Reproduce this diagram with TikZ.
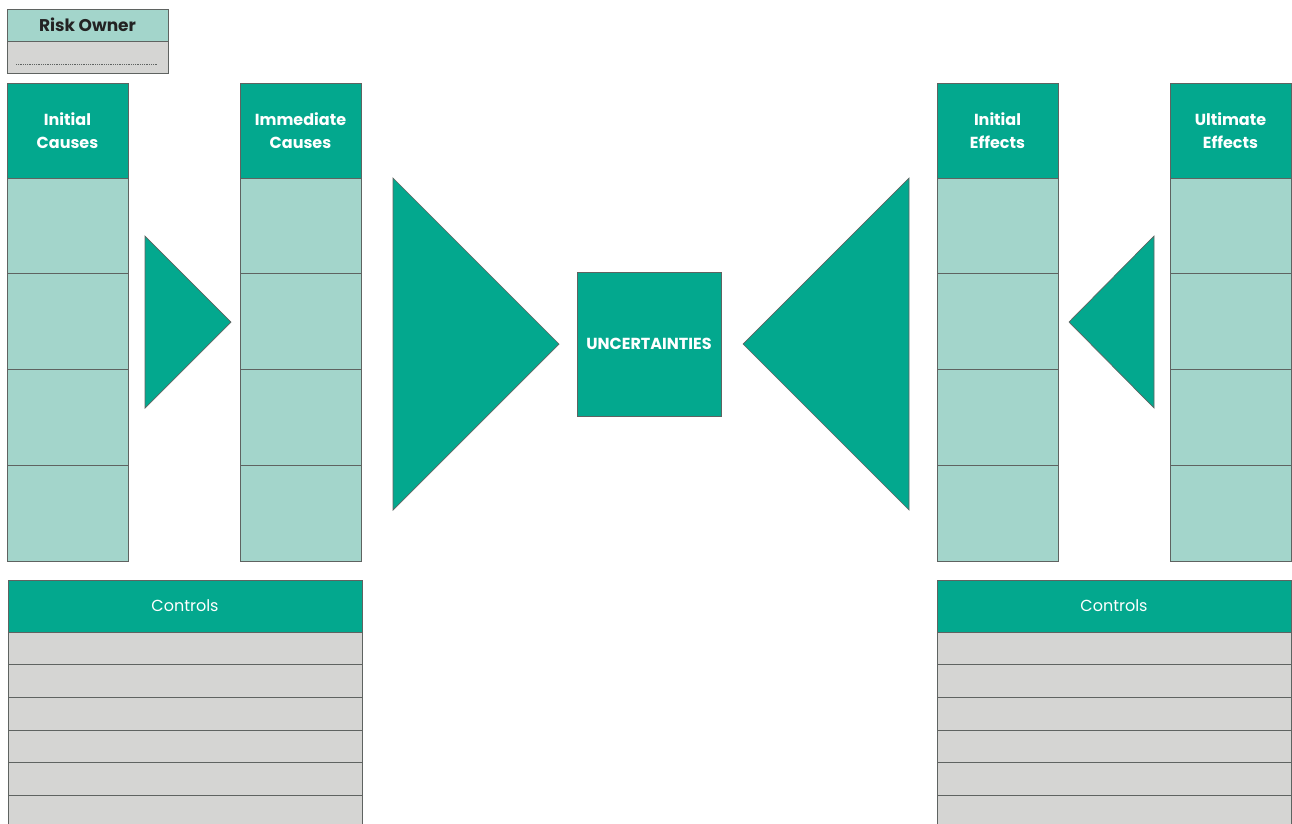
\documentclass[tikz,border=0pt]{standalone}
\usepackage{fontspec}
\setmainfont{Poppins}
\usepackage{xcolor}
\usetikzlibrary{positioning,calc}
\definecolor{bowteal}{RGB}{3,168,142}
\definecolor{cellteal}{RGB}{163,213,203}
\definecolor{rowgray}{RGB}{213,213,211}
\definecolor{edgegray}{RGB}{95,99,97}
\definecolor{inkdark}{RGB}{35,35,35}

\begin{document}
\begin{tikzpicture}[
  x=1pt, y=-1pt,
  every node/.style={inner sep=0pt, outer sep=0pt},
  colhead/.style={
    rectangle, draw=edgegray, line width=0.9pt, fill=bowteal,
    text=white, font=\fontsize{16}{23}\selectfont\bfseries,
    text width=117pt, align=center,
    minimum width=121pt, minimum height=95pt
  },
  colcell/.style={
    rectangle, draw=edgegray, line width=0.9pt, fill=cellteal,
    minimum width=121pt, minimum height=95.75pt
  },
  ctrlhead/.style={
    rectangle, draw=edgegray, line width=0.9pt, fill=bowteal,
    text=white, font=\fontsize{16}{19}\selectfont,
    minimum width=354pt, minimum height=52pt
  },
  ctrlrow/.style={
    rectangle, draw=edgegray, line width=0.9pt, fill=rowgray,
    minimum width=354pt, minimum height=32.7pt
  },
  ownerhead/.style={
    rectangle, draw=edgegray, line width=0.9pt, fill=cellteal,
    text=inkdark, font=\fontsize{17}{20}\selectfont\bfseries,
    minimum width=161pt, minimum height=32pt
  },
  ownerrow/.style={
    rectangle, draw=edgegray, line width=0.9pt, fill=rowgray,
    minimum width=161pt, minimum height=32pt
  },
  wedge/.style={draw=edgegray, line width=0.7pt, fill=bowteal},
  hub/.style={
    rectangle, draw=edgegray, line width=0.9pt, fill=bowteal,
    text=white, font=\fontsize{16}{19}\selectfont\bfseries,
    minimum width=144pt, minimum height=144pt
  }
]

\useasboundingbox (0,0) rectangle (1292,823);
\clip (0,0) rectangle (1292,823);

% risk owner
\node[ownerhead, anchor=north west] (owner) at (7,9) {Risk Owner};
\node[ownerrow, below=0pt of owner] (ownerdots) {};
\draw[edgegray, densely dotted, line width=0.8pt]
  ($(ownerdots.west)+(9,7)$) -- ($(ownerdots.east)+(-11,7)$);

% causes
\node[colhead, anchor=north west] (initc) at (7,83) {Initial\\Causes};
\node[colcell, below=0pt of initc] (initc1) {};
\node[colcell, below=0pt of initc1] (initc2) {};
\node[colcell, below=0pt of initc2] (initc3) {};
\node[colcell, below=0pt of initc3] (initc4) {};

\node[colhead, anchor=north west] (immc) at (240,83) {Immediate\\Causes};
\node[colcell, below=0pt of immc] (immc1) {};
\node[colcell, below=0pt of immc1] (immc2) {};
\node[colcell, below=0pt of immc2] (immc3) {};
\node[colcell, below=0pt of immc3] (immc4) {};

% effects
\node[colhead, anchor=north west] (inite) at (937,83) {Initial\\Effects};
\node[colcell, below=0pt of inite] (inite1) {};
\node[colcell, below=0pt of inite1] (inite2) {};
\node[colcell, below=0pt of inite2] (inite3) {};
\node[colcell, below=0pt of inite3] (inite4) {};

\node[colhead, anchor=north west] (ulte) at (1170,83) {Ultimate\\Effects};
\node[colcell, below=0pt of ulte] (ulte1) {};
\node[colcell, below=0pt of ulte1] (ulte2) {};
\node[colcell, below=0pt of ulte2] (ulte3) {};
\node[colcell, below=0pt of ulte3] (ulte4) {};

% centre
\node[hub, anchor=north west] (uncert) at (577,272) {UNCERTAINTIES};

% wedges
\draw[wedge] (145,236) -- (145,408) -- (231,322) -- cycle;
\draw[wedge] (393,178) -- (393,510) -- (559,344) -- cycle;
\draw[wedge] (909,178) -- (909,510) -- (743,344) -- cycle;
\draw[wedge] (1154,236) -- (1154,408) -- (1069,322) -- cycle;

% controls, left
\node[ctrlhead, anchor=north west] (ctrlL) at (8,580) {Controls};
\node[ctrlrow, below=0pt of ctrlL] (ctrlL1) {};
\node[ctrlrow, below=0pt of ctrlL1] (ctrlL2) {};
\node[ctrlrow, below=0pt of ctrlL2] (ctrlL3) {};
\node[ctrlrow, below=0pt of ctrlL3] (ctrlL4) {};
\node[ctrlrow, below=0pt of ctrlL4] (ctrlL5) {};
\node[ctrlrow, below=0pt of ctrlL5] (ctrlL6) {};

% controls, right
\node[ctrlhead, anchor=north west] (ctrlR) at (937,580) {Controls};
\node[ctrlrow, below=0pt of ctrlR] (ctrlR1) {};
\node[ctrlrow, below=0pt of ctrlR1] (ctrlR2) {};
\node[ctrlrow, below=0pt of ctrlR2] (ctrlR3) {};
\node[ctrlrow, below=0pt of ctrlR3] (ctrlR4) {};
\node[ctrlrow, below=0pt of ctrlR4] (ctrlR5) {};
\node[ctrlrow, below=0pt of ctrlR5] (ctrlR6) {};

\end{tikzpicture}
\end{document}
